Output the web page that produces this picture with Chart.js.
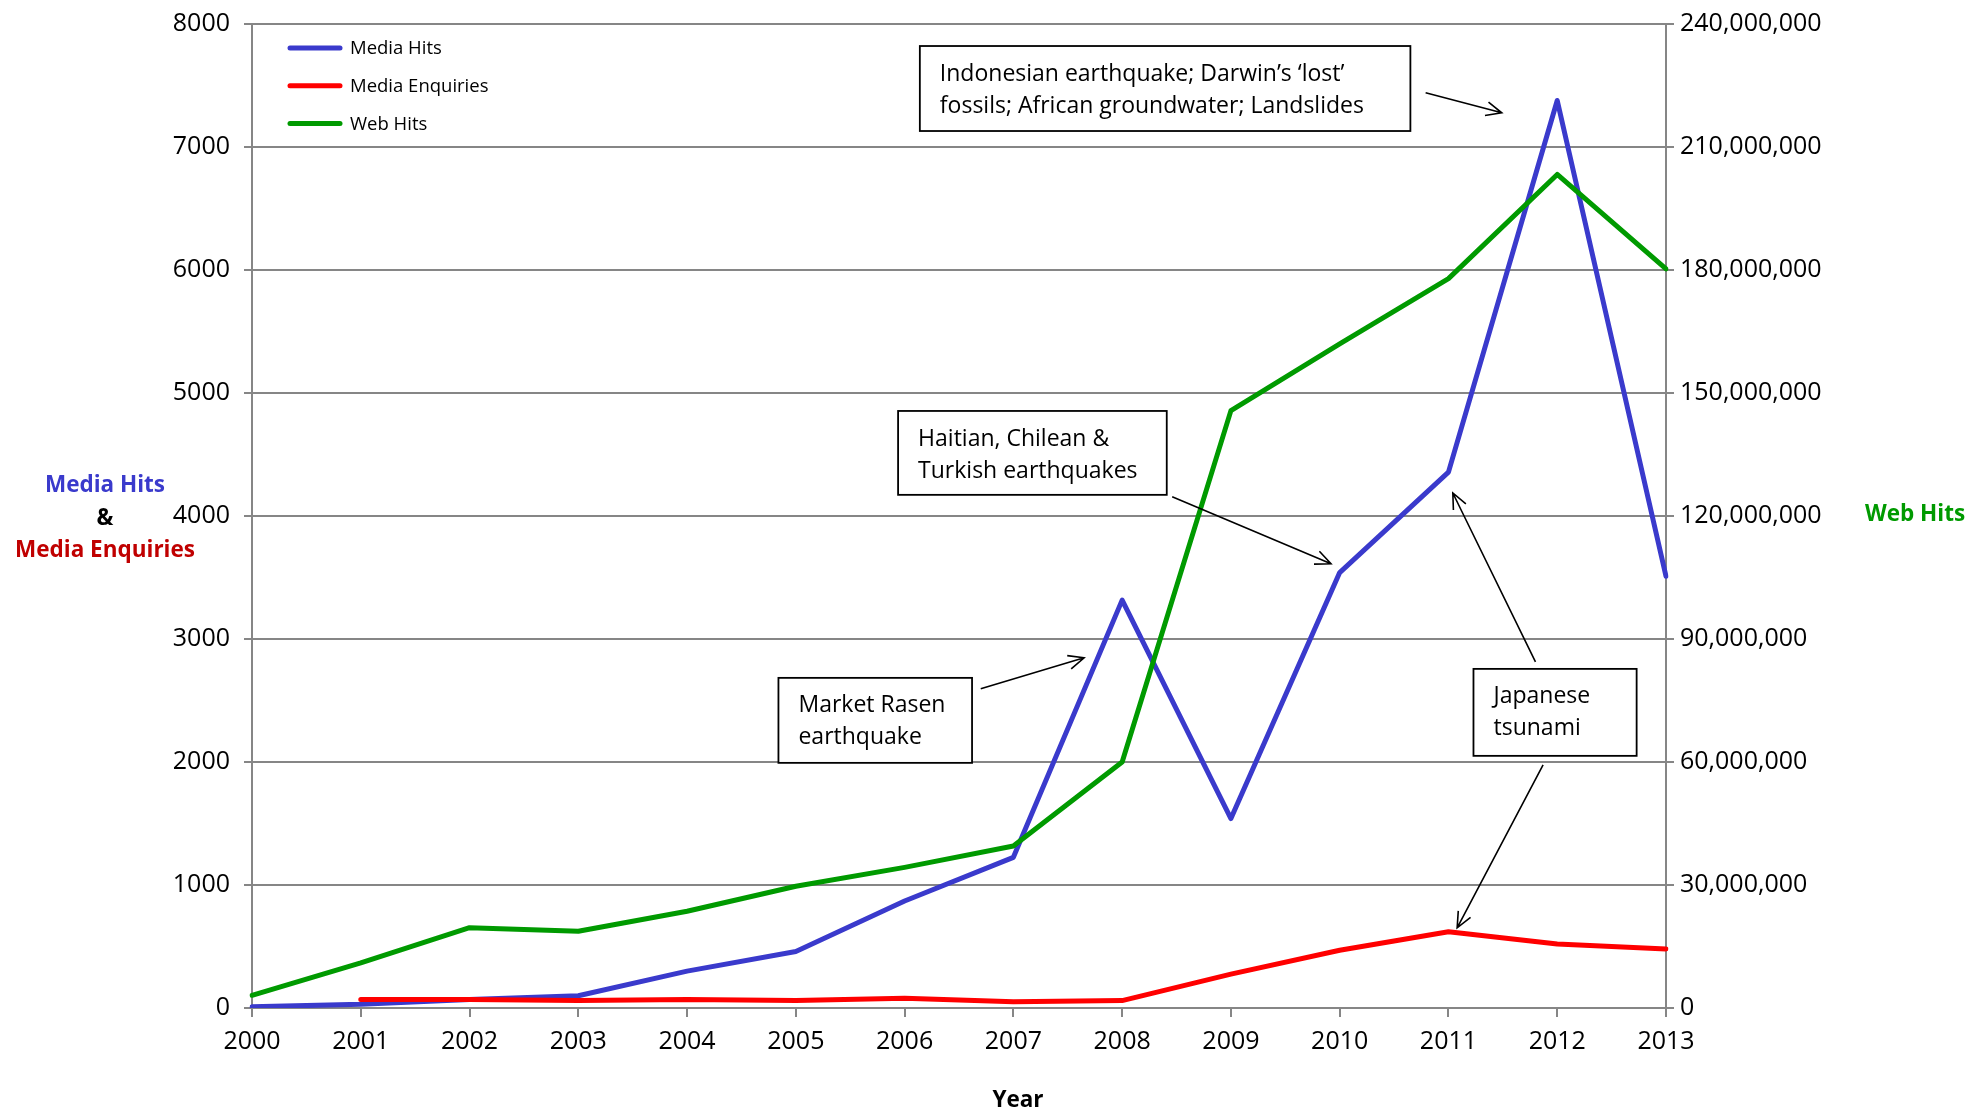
<!DOCTYPE html>
<html>
<head>
<meta charset="utf-8">
<script src="https://cdn.jsdelivr.net/npm/chart.js@4.4.0/dist/chart.umd.min.js"></script>
<style>
html, body { margin: 0; padding: 0; background: #fff; }
#wrap { width: 1969px; height: 1112px; }
</style>
</head>
<body>
<div id="wrap"><canvas id="line-chart" width="1969" height="1112"></canvas></div>
<script>
// years on the x axis
var years = ['2000', '2001', '2002', '2003', '2004', '2005', '2006', '2007', '2008', '2009', '2010', '2011', '2012', '2013'];

// left axis series
var media_hits = [10, 30, 70, 100, 300, 460, 870, 1225, 3316, 1540, 3540, 4357, 7378, 3510];
var media_enquiries = [null, 70, 70, 60, 70, 60, 80, 50, 60, 275, 470, 620, 520, 480];

// right axis series
var web_hits = [3100000, 11000000, 19600000, 18700000, 23600000, 29700000, 34300000, 39500000,
	60000000, 145700000, 162000000, 177900000, 203300000, 180300000];

// axis ranges
var left_max = 8000, left_step = 1000;
var right_max = 240000000, right_step = 30000000;

// callouts: box = [x0, yTop, x1, yBottom] in (year index, left value)
var notes = [
	{ lines: ['Indonesian earthquake; Darwin\u2019s \u2018lost\u2019', 'fossils; African groundwater; Landslides'],
	  box: [6.14, 7821, 10.65, 7130], arrows: [[10.79, 7441, 11.49, 7278]] },
	{ lines: ['Haitian, Chilean &', 'Turkish earthquakes'],
	  box: [5.94, 4854, 8.41, 4172], arrows: [[8.46, 4156, 9.92, 3612]] },
	{ lines: ['Market Rasen', 'earthquake'],
	  box: [4.84, 2684, 6.62, 1993], arrows: [[6.70, 2595, 7.65, 2847]] },
	{ lines: ['Japanese', 'tsunami'],
	  box: [11.23, 2757, 12.73, 2050], arrows: [[11.87, 1977, 11.08, 652], [11.80, 2814, 11.04, 4187]] }
];

var FONT = '"Open Sans", "Liberation Sans", sans-serif';
var GRID = '#868686';
var BLUE = '#3a3acc', RED = '#ff0000', GREEN = '#009a00';

function arrow(ctx, x0, y0, x1, y1) {
	var a = Math.atan2(y1 - y0, x1 - x0), h = 17, s = 0.42;
	ctx.beginPath();
	ctx.moveTo(x0, y0);
	ctx.lineTo(x1, y1);
	ctx.moveTo(x1 - h * Math.cos(a - s), y1 - h * Math.sin(a - s));
	ctx.lineTo(x1, y1);
	ctx.lineTo(x1 - h * Math.cos(a + s), y1 - h * Math.sin(a + s));
	ctx.stroke();
}

var extras = {
	id: 'extras',
	afterDraw: function (chart) {
		var ctx = chart.ctx, area = chart.chartArea;
		var sx = chart.scales.x, sy = chart.scales.y;
		ctx.save();

		// legend
		var items = [['Media Hits', BLUE], ['Media Enquiries', RED], ['Web Hits', GREEN]];
		ctx.font = '18.5px ' + FONT;
		ctx.textBaseline = 'middle';
		ctx.textAlign = 'left';
		items.forEach(function (it, i) {
			var y = area.top + 24 + i * 37.7;
			ctx.strokeStyle = it[1];
			ctx.lineWidth = 5;
			ctx.lineCap = 'round';
			ctx.beginPath();
			ctx.moveTo(area.left + 38, y);
			ctx.lineTo(area.left + 88, y);
			ctx.stroke();
			ctx.fillStyle = '#000';
			ctx.fillText(it[0], area.left + 98, y + 1);
		});

		// axis titles
		ctx.font = 'bold 22.5px ' + FONT;
		ctx.textAlign = 'center';
		ctx.fillStyle = BLUE;
		ctx.fillText('Media Hits', 105, 486);
		ctx.fillStyle = '#000';
		ctx.fillText('&', 105, 519);
		ctx.fillStyle = '#c00000';
		ctx.fillText('Media Enquiries', 105, 551);
		ctx.fillStyle = GREEN;
		ctx.fillText('Web Hits', 1915, 515);
		ctx.fillStyle = '#000';
		ctx.fillText('Year', 1018, 1101);

		// callouts
		ctx.lineCap = 'butt';
		notes.forEach(function (n) {
			var x0 = sx.getPixelForValue(n.box[0]), y0 = sy.getPixelForValue(n.box[1]);
			var x1 = sx.getPixelForValue(n.box[2]), y1 = sy.getPixelForValue(n.box[3]);
			ctx.fillStyle = '#fff';
			ctx.fillRect(x0, y0, x1 - x0, y1 - y0);
			ctx.strokeStyle = '#000';
			ctx.lineWidth = 1.8;
			ctx.strokeRect(x0, y0, x1 - x0, y1 - y0);
			ctx.fillStyle = '#000';
			ctx.font = '23px ' + FONT;
			ctx.textAlign = 'left';
			n.lines.forEach(function (t, i) {
				ctx.fillText(t, x0 + 20, y0 + 28 + i * 32);
			});
			ctx.lineWidth = 1.6;
			n.arrows.forEach(function (a) {
				arrow(ctx, sx.getPixelForValue(a[0]), sy.getPixelForValue(a[1]),
					sx.getPixelForValue(a[2]), sy.getPixelForValue(a[3]));
			});
		});
		ctx.restore();
	}
};

var tickFont = { family: FONT, size: 25 };

// fixed axis sizes, no extra label overhang padding
function fitY(w) {
	return function (s) { s.width = w; s.paddingTop = 0; s.paddingBottom = 0; };
}

new Chart(document.getElementById('line-chart').getContext('2d'), {
	type: 'line',
	data: {
		labels: years,
		datasets: [
			{ label: 'Media Hits', data: media_hits, yAxisID: 'y', borderColor: BLUE, order: 3 },
			{ label: 'Media Enquiries', data: media_enquiries, yAxisID: 'y', borderColor: RED, order: 2 },
			{ label: 'Web Hits', data: web_hits, yAxisID: 'y2', borderColor: GREEN, order: 1 }
		]
	},
	options: {
		responsive: false,
		animation: false,
		layout: { padding: { top: 24, left: 0, right: 0, bottom: 0 } },
		elements: {
			line: { borderWidth: 5, tension: 0, borderJoinStyle: 'round', borderCapStyle: 'round', fill: false },
			point: { radius: 0, hoverRadius: 0 }
		},
		plugins: { legend: { display: false }, tooltip: { enabled: false } },
		scales: {
			x: {
				offset: false,
				grid: { drawOnChartArea: false, drawTicks: true, tickLength: 9, color: GRID, lineWidth: 2 },
				border: { color: GRID, width: 2 },
				ticks: { font: tickFont, color: '#000', padding: 10, maxRotation: 0, autoSkip: false },
				afterFit: function (s) { s.height = 104; s.paddingLeft = 0; s.paddingRight = 0; }
			},
			y: {
				position: 'left',
				min: 0, max: left_max,
				grid: { color: GRID, lineWidth: 2, tickLength: 8 },
				border: { color: GRID, width: 2 },
				ticks: {
					stepSize: left_step, font: tickFont, color: '#000', padding: 14,
					callback: function (v) { return String(v); }
				},
				afterFit: fitY(252)
			},
			y2: {
				position: 'right',
				min: 0, max: right_max,
				grid: { drawOnChartArea: false, color: GRID, lineWidth: 2, tickLength: 8 },
				border: { color: GRID, width: 2 },
				ticks: {
					stepSize: right_step, font: tickFont, color: '#000', padding: 6,
					callback: function (v) { return v.toLocaleString('en-US'); }
				},
				afterFit: fitY(303)
			}
		}
	},
	plugins: [extras]
});
</script>
</body>
</html>
